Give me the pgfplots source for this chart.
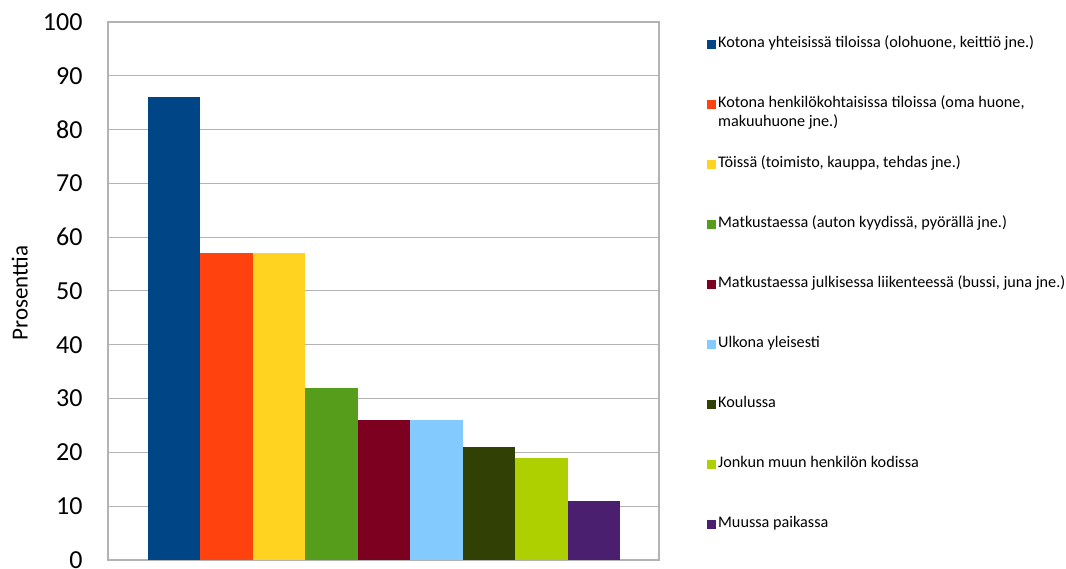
\documentclass[border=0pt]{standalone}
\usepackage{fontspec}
\setmainfont{Carlito}
\usepackage{pgfplots}
\pgfplotsset{compat=1.18}

\definecolor{c1}{HTML}{004586}
\definecolor{c2}{HTML}{FF420E}
\definecolor{c3}{HTML}{FFD320}
\definecolor{c4}{HTML}{579D1C}
\definecolor{c5}{HTML}{7E0021}
\definecolor{c6}{HTML}{83CAFF}
\definecolor{c7}{HTML}{314004}
\definecolor{c8}{HTML}{AECF00}
\definecolor{c9}{HTML}{4B1F6F}
\definecolor{gridgray}{HTML}{B3B3B3}

\begin{document}
\begin{tikzpicture}
\useasboundingbox (0,0) rectangle (1066pt,569pt);
\begin{axis}[
  at={(108pt,9pt)}, anchor=south west,
  scale only axis, width=551pt, height=538pt,
  ybar, bar width=1,
  xmin=-1.263, xmax=9.244,
  ymin=0, ymax=100,
  ytick={0,10,...,100},
  xtick=\empty,
  ymajorgrids,
  major grid style={gridgray, line width=1pt},
  axis line style={gridgray, line width=1.6pt},
  major tick length=0pt,
  tick style={draw=none},
  /pgf/number format/assume math mode=true,
  yticklabel style={font=\fontsize{26}{30}\selectfont, anchor=east, xshift=-22pt},
  ylabel={Prosenttia},
  ylabel style={font=\fontsize{23}{27}\selectfont, at={(axis description cs:-0.16,0.496)}, anchor=center},
  legend cell align=left,
  legend image code/.code={\fill[#1] (0pt,-4.5pt) rectangle (9pt,4.5pt);},
  legend style={draw=none, fill=none, inner sep=0pt,
    at={(axis description cs:1.087,0.975)}, anchor=north west,
    font=\fontsize{16.2}{19}\selectfont,
    row sep=43pt,
    nodes={inner xsep=2pt, inner ysep=1pt, text height=11pt, text depth=4pt}},
  every axis plot/.append style={draw=none, bar shift=0pt},
]
\addplot[fill=c1] coordinates {(0,86)};
\addlegendentry{Kotona yhteisissä tiloissa (olohuone, keittiö jne.)}
\addplot[fill=c2] coordinates {(1,57)};
\addlegendentry{\smash{\begin{tabular}[t]{@{}l@{}}Kotona henkilökohtaisissa tiloissa (oma huone,\\makuuhuone jne.)\end{tabular}}}
\addplot[fill=c3] coordinates {(2,57)};
\addlegendentry{Töissä (toimisto, kauppa, tehdas jne.)}
\addplot[fill=c4] coordinates {(3,32)};
\addlegendentry{Matkustaessa (auton kyydissä, pyörällä jne.)}
\addplot[fill=c5] coordinates {(4,26)};
\addlegendentry{Matkustaessa julkisessa liikenteessä (bussi, juna jne.)}
\addplot[fill=c6] coordinates {(5,26)};
\addlegendentry{Ulkona yleisesti}
\addplot[fill=c7] coordinates {(6,21)};
\addlegendentry{Koulussa}
\addplot[fill=c8] coordinates {(7,19)};
\addlegendentry{Jonkun muun henkilön kodissa}
\addplot[fill=c9] coordinates {(8,11)};
\addlegendentry{Muussa paikassa}
\end{axis}
\end{tikzpicture}
\end{document}
